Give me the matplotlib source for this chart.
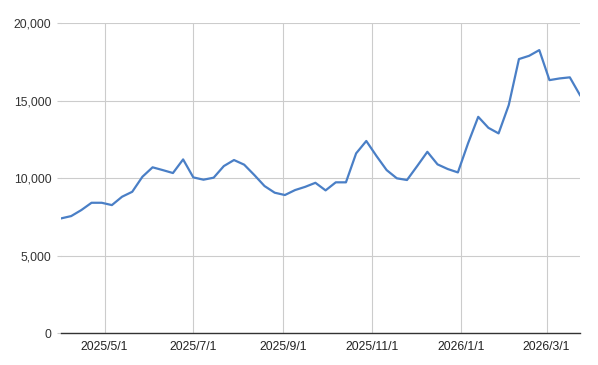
import matplotlib
matplotlib.use("Agg")
import matplotlib.pyplot as plt
import matplotlib.dates as mdates
import matplotlib.ticker as mticker
import pandas as pd

plt.rcParams['font.family'] = ['Liberation Sans', 'DejaVu Sans']

start_date = "2025-04-01"
values = [7400, 7550, 7940, 8410, 8410, 8260, 8800, 9120, 10090, 10700,
          10520, 10330, 11210, 10050, 9900, 10030, 10780, 11170, 10870, 10200,
          9490, 9060, 8910, 9230, 9440, 9700, 9210, 9730, 9730, 11600,
          12400, 11430, 10520, 9990, 9880, 10780, 11700, 10890, 10590, 10370,
          12250, 13960, 13250, 12890, 14720, 17690, 17900, 18270, 16330, 16440,
          16510, 15360]
dates = pd.date_range(start_date, periods=len(values), freq="7D")

x_ticks = ["2025-05-01", "2025-07-01", "2025-09-01", "2025-11-01", "2026-01-01", "2026-03-01"]
x_tick_labels = ["2025/5/1", "2025/7/1", "2025/9/1", "2025/11/1", "2026/1/1", "2026/3/1"]
y_ticks = [0, 5000, 10000, 15000, 20000]

fig = plt.figure(figsize=(5.98, 3.65), dpi=100)
ax = fig.add_axes([61/598, (365-333)/365, (580-61)/598, (333-23.3)/365])

ax.plot(dates, values, color="#4a7fc6", linewidth=1.6, solid_joinstyle="round", zorder=3)

ax.set_xlim(dates[0], dates[-1])
ax.set_ylim(0, 20000)
ax.set_xticks(pd.to_datetime(x_ticks))
ax.set_xticklabels(x_tick_labels)
ax.set_yticks(y_ticks)
ax.yaxis.set_major_formatter(mticker.FuncFormatter(lambda v, p: f"{int(v):,}"))

ax.grid(True, color="#cccccc", linewidth=0.8, zorder=0)
for s in ["top", "right", "left"]:
    ax.spines[s].set_visible(False)
ax.spines["bottom"].set_color("#333333")
ax.spines["bottom"].set_linewidth(1.0)
ax.spines["bottom"].set_zorder(4)

ax.tick_params(axis="x", length=0, pad=6, labelsize=8.8, labelcolor="#222222")
ax.tick_params(axis="y", length=3, color="#cccccc", width=0.8, pad=4, labelsize=8.8, labelcolor="#333333")
ax.yaxis.get_major_ticks()[0].tick1line.set_color("#333333")

fig.savefig("out.png", dpi=100)
